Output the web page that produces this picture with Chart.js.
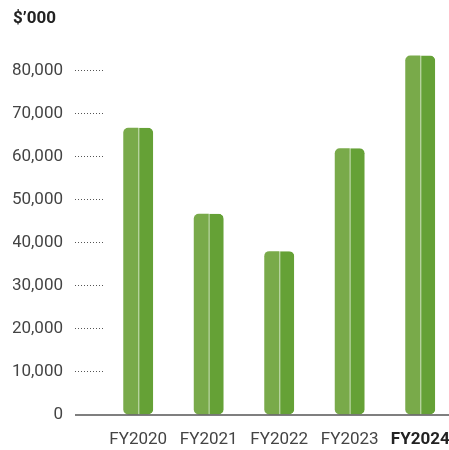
<!DOCTYPE html>
<html>
<head>
<meta charset="utf-8">
<script src="https://cdn.jsdelivr.net/npm/chart.js@4/dist/chart.umd.min.js"></script>
<style>
  html, body { margin: 0; padding: 0; background: #fff; overflow: hidden; }
  #wrap { width: 449px; height: 450px; }
</style>
</head>
<body>
<div id="wrap"><canvas id="myChart"></canvas></div>
<script>
const categorias = ["FY2020", "FY2021", "FY2022", "FY2023", "FY2024"];
const valores = [66800, 46800, 38100, 62000, 83600];
const yTicks = [0, 10000, 20000, 30000, 40000, 50000, 60000, 70000, 80000];
const titulo = "$\u2019000";

const fuente = "Roboto, sans-serif";
const verdeClaro = "#79aa4a";
const verdeOscuro = "#65a136";

// linea base que sale desde las marcas del eje y
const lineaBase = {
  id: "lineaBase",
  afterDatasetsDraw(chart) {
    const { ctx, scales } = chart;
    const y = scales.y.getPixelForValue(0);
    ctx.save();
    ctx.strokeStyle = "#555";
    ctx.lineWidth = 1.5;
    ctx.beginPath();
    ctx.moveTo(scales.y.right - 28, y);
    ctx.lineTo(chart.width, y);
    ctx.stroke();
    ctx.restore();
  },
};

const puntos = valores.map((v, i) => ({ x: i, y: v }));

const data = {
  datasets: [
    {
      data: puntos,
      backgroundColor: verdeClaro,
      borderWidth: 0,
      borderSkipped: false,
      borderRadius: { topLeft: 5, bottomLeft: 5, topRight: 0, bottomRight: 0 },
    },
    {
      data: puntos,
      backgroundColor: verdeOscuro,
      borderColor: "#a3c985",
      borderWidth: { left: 1, top: 0, right: 0, bottom: 0 },
      borderSkipped: false,
      borderRadius: { topLeft: 0, bottomLeft: 0, topRight: 5, bottomRight: 5 },
    },
  ],
};

const config = {
  type: "bar",
  data,
  plugins: [lineaBase],
  options: {
    responsive: true,
    maintainAspectRatio: false,
    animation: false,
    categoryPercentage: 0.425,
    barPercentage: 1,
    layout: { padding: { left: 13, right: 0, top: 0, bottom: 1 } },
    plugins: {
      legend: { display: false },
      tooltip: { enabled: false },
      title: {
        display: true,
        text: titulo,
        align: "start",
        color: "#222",
        font: { family: fuente, size: 17, weight: "bold" },
        padding: { top: 9, bottom: 20 },
      },
    },
    scales: {
      x: {
        type: "linear",
        offset: false,
        min: -0.5,
        max: 4.408,
        afterBuildTicks: (scale) => {
          scale.ticks = categorias.map((c, i) => ({ value: i }));
        },
        afterFit: (scale) => {
          scale.height = 34;
          scale.paddingLeft = 0;
          scale.paddingRight = 0;
        },
        grid: { display: false, drawTicks: false },
        border: { display: false },
        ticks: {
          padding: 15,
          autoSkip: false,
          maxRotation: 0,
          callback: (v) => categorias[v],
          color: (ctx) => (ctx.index === 4 ? "#222" : "#444"),
          font: (ctx) => ({
            family: fuente,
            size: 17,
            weight: ctx.index === 4 ? "bold" : "normal",
          }),
        },
      },
      y: {
        min: 0,
        max: 85000,
        afterBuildTicks: (scale) => {
          scale.ticks = yTicks.map((v) => ({ value: v }));
        },
        afterFit: (scale) => {
          scale.width = 90;
        },
        border: { display: false },
        grid: {
          drawOnChartArea: false,
          drawTicks: true,
          tickLength: 28,
          tickColor: (ctx) => (ctx.tick && ctx.tick.value === 0 ? "rgba(0,0,0,0)" : "#555"),
          tickWidth: 1,
          tickBorderDash: [1, 2],
        },
        ticks: {
          padding: 12,
          color: "#444",
          font: { family: fuente, size: 17 },
          callback: (v) => v.toLocaleString("en-US"),
        },
      },
    },
  },
};

const myChart = new Chart(document.getElementById("myChart"), config);
</script>
</body>
</html>
